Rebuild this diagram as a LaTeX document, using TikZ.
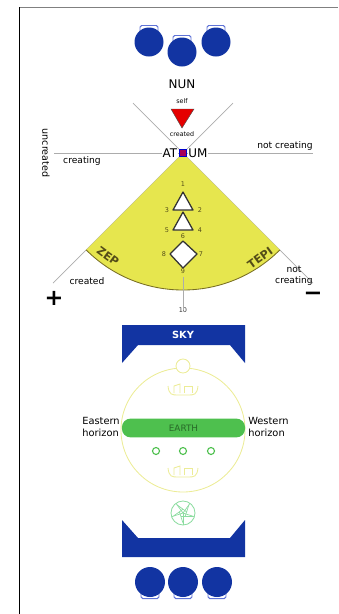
\documentclass[tikz,border=0pt]{standalone}
\usepackage{fontspec}
\setmainfont{DejaVu Sans}
\definecolor{potblue}{RGB}{18,52,162}
\definecolor{lidblue}{RGB}{95,115,215}
\definecolor{sunyellow}{RGB}{230,230,78}
\definecolor{olive}{RGB}{120,110,35}
\definecolor{duat}{RGB}{236,236,150}
\definecolor{earthgreen}{RGB}{78,192,78}
\definecolor{darkgreen}{RGB}{40,105,40}
\definecolor{wheelgreen}{RGB}{140,220,160}
\begin{document}
\begin{tikzpicture}[x=0.025cm, y=-0.025cm,
    lbl/.style={inner sep=0pt, font=\fontsize{6.5}{7.5}\selectfont},
    tiny/.style={inner sep=0pt, font=\fontsize{4.5}{5}\selectfont},
    big/.style={inner sep=0pt, font=\fontsize{8.5}{9}\selectfont},
    num/.style={inner sep=0pt, font=\fontsize{4.6}{5}\selectfont, text=olive!70!black},
    lid/.style={draw=lidblue, fill=white, line width=0.7pt, rounded corners=1.2pt},
    axis/.style={gray!65, line width=0.5pt},
    figure/.style={draw=black!80, fill=white, line width=0.9pt, line join=round},
    duatline/.style={draw=duat, line width=0.6pt}]
\useasboundingbox (0,0) rectangle (338,614);
\draw[gray, line width=1.1pt] (19,7.5)--(338,7.5);
\draw[line width=0.8pt] (19.5,7)--(19.5,614);

\foreach \x/\y in {149/42, 182/52, 216/42}
{
    \draw[lid] (\x-9,\y-9) rectangle (\x+9,\y-16.5);
    \fill[potblue] (\x,\y) circle[radius=14.5];
}
\node[big] (nun) at (182,84) {NUN};

\coordinate (atum) at (183,153);
\coordinate (ul) at (133,103);
\coordinate (ur) at (233,103);
\coordinate (ll) at (53,283);
\coordinate (lr) at (313,283);
\coordinate (hl) at (54,153);
\coordinate (hr) at (313,153);
\draw[axis] (ul)--(lr);
\draw[axis] (ur)--(ll);
\draw[axis] (hl)--(hr);

\fill[sunyellow] (atum) -- ++(135:137) arc[start angle=135, end angle=45, radius=137] -- cycle;
\draw[olive, line width=0.6pt] (atum) ++(135:137) arc[start angle=135, end angle=45, radius=137];

\node[tiny] (self) at (182,101) {self};
\filldraw[fill=red!90!black, draw=black!70, line width=0.3pt] (171,109)--(194,109)--(182,128)--cycle;
\node[tiny] (created) at (182,134) {created};

\node[big, fill=white, inner sep=0.5pt] (at) at (170,153) {AT};
\node[big, fill=white, inner sep=0.5pt] (um) at (198,153) {UM};
\filldraw[fill=violet!70!red, draw=blue!80!black, line width=0.6pt] (179.5,149.5) rectangle (186.5,156.5);

\node[lbl] (creating) at (82,161) {creating};
\node[lbl] (notcreating) at (285,146) {not creating};
\node[lbl, rotate=-90, font=\fontsize{6.8}{7.5}\selectfont] (uncreated) at (46,153) {uncreated};

\draw[figure] (183,192)--(173,210)--(193,210)--cycle;
\draw[figure] (183,212)--(173,230)--(193,230)--cycle;
\draw[figure] (183,241)--(197,254)--(183,268)--(170,254)--cycle;
\node[num] (n1) at (183,184) {1};
\node[num] (n2) at (200,210) {2};
\node[num] (n3) at (167,210) {3};
\node[num] (n4) at (200,230) {4};
\node[num] (n5) at (167,230) {5};
\node[num] (n6) at (183,236) {6};
\node[num] (n7) at (201,254) {7};
\node[num] (n8) at (164,254) {8};
\node[num] (n9) at (183,271) {9};
\node[num, text=black!80] (n10) at (183,310) {10};
\draw[axis] (n9.south)++(0,3) -- ([yshift=-2pt]n10.north);

\node[inner sep=0pt, font=\fontsize{8}{9}\selectfont\bfseries, text=olive!70!black, rotate=-36] (zep) at (108,256) {ZEP};
\node[inner sep=0pt, font=\fontsize{8}{9}\selectfont\bfseries, text=olive!70!black, rotate=36] (tepi) at (260,258) {TEPI};
\node[lbl] (createdz) at (87,281) {created};
\node[lbl, align=center] (notcreatingt) at (294,276) {not\\creating};
\node[inner sep=0pt, font=\fontsize{16}{16}\selectfont\bfseries] (plus) at (54,298) {+};
\node[inner sep=0pt, font=\fontsize{16}{16}\selectfont\bfseries] (minus) at (313,296) {−};

\fill[potblue] (122,325)--(245,325)--(245,363)--(230,345)--(138,345)--(122,363)--cycle;
\node[inner sep=0pt, text=white, font=\fontsize{7}{8}\selectfont\bfseries] (sky) at (183,335) {SKY};

\draw[duatline] (183,430) circle[radius=62];
\draw[duatline, fill=white] (183,366) circle[radius=7];
\foreach \y in {395,477}
{
    \draw[duatline, line join=round] (168,\y-9) .. controls (169,\y) and (172,\y) .. (178,\y) -- (188,\y) .. controls (194,\y) and (197,\y) .. (198,\y-9);
    \draw[duatline] (174,\y-2)--(174,\y-9)--(180,\y-11)--(180,\y-2);
    \draw[duatline] (184,\y-2)--(184,\y-9)--(192,\y-9)--(192,\y-2);
}

\node[fill=earthgreen, rounded corners=0.22cm, minimum width=3.08cm, minimum height=0.47cm, inner sep=0pt,
      text=darkgreen, font=\fontsize{6.3}{7}\selectfont] (earth) at (183.5,428) {EARTH};
\node[lbl, align=left, anchor=east, font=\fontsize{7}{8.5}\selectfont] (east) at (120,427) {Eastern\\horizon};
\node[lbl, align=left, anchor=west, font=\fontsize{7}{8.5}\selectfont] (west) at (248,427) {Western\\horizon};
\foreach \x in {156,183,211}
    \draw[earthgreen, line width=0.8pt] (\x,451) circle[radius=3.5];

\draw[wheelgreen, line width=0.6pt] (183,513) circle[radius=12];
\foreach \a in {90,162,234,306,18}
{
    \draw[wheelgreen, line width=0.5pt] (183,513) -- ++(\a:12);
    \draw[wheelgreen, line width=0.5pt] (183,513) ++(\a:10) -- ++(\a+162:11.8);
}

\fill[potblue] (122,520)--(138,538)--(230,538)--(245,520)--(245,557)--(122,557)--cycle;
\foreach \x in {150,183,217}
{
    \draw[lid] (\x-9,582+9) rectangle (\x+9,582+16.5);
    \fill[potblue] (\x,582) circle[radius=15];
}
\end{tikzpicture}
\end{document}
